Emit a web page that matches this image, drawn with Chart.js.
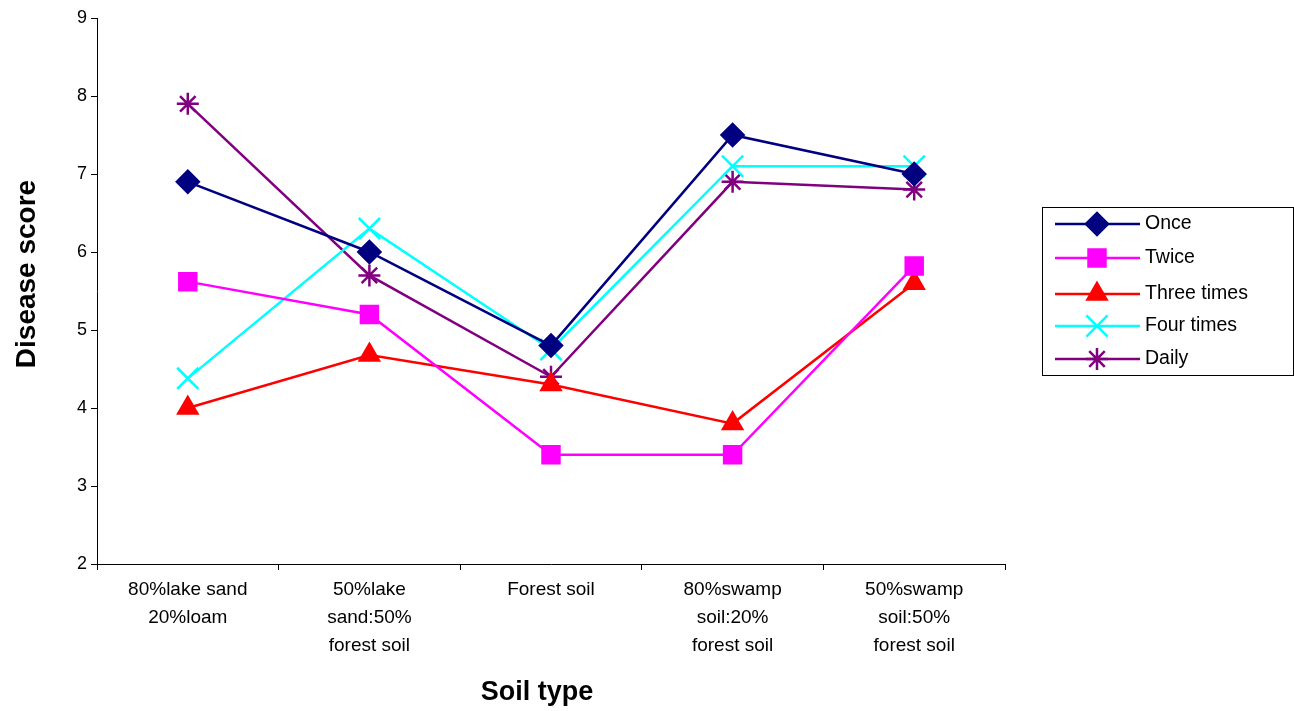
<!DOCTYPE html>
<html>
<head>
<meta charset="utf-8">
<script src="https://cdn.jsdelivr.net/npm/chart.js@4/dist/chart.umd.min.js"></script>
<style>
  html, body { margin: 0; padding: 0; background: #fff; }
  #wrap { width: 1294px; height: 711px; position: relative; }
</style>
</head>
<body>
<div id="wrap"><canvas id="chart"></canvas></div>
<script>
const soilTypes = [
  ['80%lake sand', '20%loam'],
  ['50%lake', 'sand:50%', 'forest soil'],
  'Forest soil',
  ['80%swamp', 'soil:20%', 'forest soil'],
  ['50%swamp', 'soil:50%', 'forest soil']
];
const once = [6.9, 6.0, 4.8, 7.5, 7.0];
const twice = [5.62, 5.2, 3.4, 3.4, 5.82];
const threeTimes = [4.0, 4.68, 4.3, 3.8, 5.6];
const fourTimes = [4.38, 6.3, 4.75, 7.1, 7.1];
const daily = [7.9, 5.7, 4.4, 6.9, 6.8];

const FONT = '"Liberation Sans", Arial, sans-serif';

// legend drawn as a boxed panel like the original
const boxLegend = {
  id: 'boxLegend',
  afterDraw(chart) {
    const ctx = chart.ctx;
    const x0 = 1042, y0 = 207, w = 251, h = 168;
    ctx.save();
    ctx.strokeStyle = '#000';
    ctx.lineWidth = 1;
    ctx.strokeRect(x0 + 0.5, y0 + 0.5, w, h);
    const rows = [224, 258, 294, 326, 359];
    chart.data.datasets.forEach((ds, i) => {
      const y = rows[i];
      ctx.strokeStyle = ds.borderColor;
      ctx.lineWidth = ds.borderWidth;
      ctx.beginPath();
      ctx.moveTo(1055, y);
      ctx.lineTo(1140, y);
      ctx.stroke();
      ctx.fillStyle = ds.backgroundColor;
      Chart.helpers.drawPoint(ctx, {
        pointStyle: ds.pointStyle,
        radius: ds.pointRadius,
        rotation: 0,
        borderWidth: ds.pointBorderWidth || 2
      }, 1097, y);
      ctx.fillStyle = '#000';
      ctx.font = '19.5px ' + FONT;
      ctx.textBaseline = 'middle';
      ctx.textAlign = 'left';
      ctx.fillText(ds.label, 1145, y);
    });
    ctx.restore();
  }
};

const axisTitles = {
  id: 'axisTitles',
  afterDraw(chart) {
    const ctx = chart.ctx;
    ctx.save();
    ctx.fillStyle = '#000';
    ctx.textAlign = 'center';
    ctx.textBaseline = 'middle';
    ctx.font = 'bold 27px ' + FONT;
    ctx.fillText('Soil type', 537, 693);
    ctx.translate(27, 274);
    ctx.rotate(-Math.PI / 2);
    ctx.font = 'bold 28px ' + FONT;
    ctx.fillText('Disease score', 0, 0);
    ctx.restore();
  }
};

function series(label, data, color, style, radius) {
  return {
    label: label,
    data: data,
    borderColor: color,
    backgroundColor: color,
    borderWidth: 2.5,
    pointStyle: style,
    pointRadius: radius,
    pointHoverRadius: radius,
    pointBorderWidth: 2.5,
    pointBorderColor: color,
    pointBackgroundColor: color,
    tension: 0
  };
}

new Chart(document.getElementById('chart'), {
  type: 'line',
  data: {
    labels: soilTypes,
    datasets: [
      series('Once', once, '#000080', 'rectRot', 11),
      series('Twice', twice, '#FF00FF', 'rect', 12),
      series('Three times', threeTimes, '#FF0000', 'triangle', 11),
      series('Four times', fourTimes, '#00FFFF', 'crossRot', 15),
      series('Daily', daily, '#800080', 'star', 11)
    ]
  },
  options: {
    responsive: true,
    maintainAspectRatio: false,
    animation: false,
    events: [],
    layout: { padding: { left: 0, top: 18, right: 289, bottom: 0 } },
    plugins: {
      legend: { display: false },
      tooltip: { enabled: false }
    },
    scales: {
      x: {
        offset: true,
        afterFit: (scale) => { scale.height = 147; },
        grid: {
          offset: true,
          drawOnChartArea: false,
          drawTicks: true,
          tickLength: 6,
          color: '#000'
        },
        border: { color: '#000', width: 1 },
        ticks: {
          color: '#000',
          padding: 6,
          maxRotation: 0,
          autoSkip: false,
          font: { family: FONT, size: 19, lineHeight: 1.47 }
        }
      },
      y: {
        min: 2,
        max: 9,
        afterFit: (scale) => { scale.width = 97; },
        grid: {
          drawOnChartArea: false,
          drawTicks: true,
          tickLength: 6,
          color: '#000'
        },
        border: { color: '#000', width: 1 },
        ticks: {
          stepSize: 1,
          color: '#000',
          padding: 4,
          font: { family: FONT, size: 18 }
        }
      }
    }
  },
  plugins: [boxLegend, axisTitles]
});
</script>
</body>
</html>
